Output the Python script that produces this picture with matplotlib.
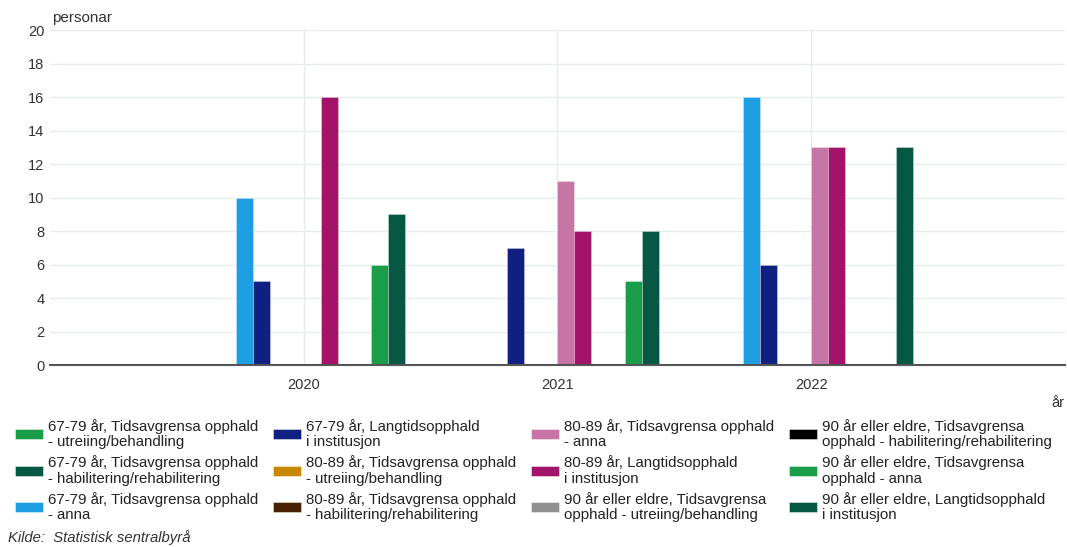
import numpy as np
import matplotlib
matplotlib.use("Agg")
import matplotlib.pyplot as plt
from matplotlib.patches import Rectangle

plt.rcParams["font.family"] = ["Liberation Sans", "DejaVu Sans"]

# Data
years = ["2020", "2021", "2022"]
series = [
    "67-79 år, Tidsavgrensa opphald\n- utreiing/behandling",
    "67-79 år, Tidsavgrensa opphald\n- habilitering/rehabilitering",
    "67-79 år, Tidsavgrensa opphald\n- anna",
    "67-79 år, Langtidsopphald\ni institusjon",
    "80-89 år, Tidsavgrensa opphald\n- utreiing/behandling",
    "80-89 år, Tidsavgrensa opphald\n- habilitering/rehabilitering",
    "80-89 år, Tidsavgrensa opphald\n- anna",
    "80-89 år, Langtidsopphald\ni institusjon",
    "90 år eller eldre, Tidsavgrensa\nopphald - utreiing/behandling",
    "90 år eller eldre, Tidsavgrensa\nopphald - habilitering/rehabilitering",
    "90 år eller eldre, Tidsavgrensa\nopphald - anna",
    "90 år eller eldre, Langtidsopphald\ni institusjon",
]
values = [
    [0, 0, 0],
    [0, 0, 0],
    [10, 0, 16],
    [5, 7, 6],
    [0, 0, 0],
    [0, 0, 0],
    [0, 11, 13],
    [16, 8, 13],
    [0, 0, 0],
    [0, 0, 0],
    [6, 5, 0],
    [9, 8, 13],
]
colors = [
    "#1a9d49", "#075745", "#1e9fe3", "#0f2080",
    "#c78800", "#472200", "#c775a7", "#a3136a",
    "#909090", "#000000", "#1a9d49", "#075745",
]

fig = plt.figure(figsize=(10.67, 5.47), dpi=100)
ax = fig.add_axes([0.0469, 0.3327, 0.951, 0.6124])

x = np.arange(len(years))
n = len(series)
w = 0.8 / n
for i in range(n):
    ax.bar(x + (i - n / 2) * w, values[i], width=w, align="edge",
           color=colors[i], edgecolor=(1, 1, 1, 0.35), linewidth=0.6, zorder=3)

ax.set_xlim(-1, 3)
ax.set_ylim(0, 20)
ax.set_yticks(range(0, 21, 2))
ax.set_xticks(x)
ax.set_xticklabels(years)
ax.tick_params(axis="both", length=0, labelsize=10.5, labelcolor="#333333")
ax.tick_params(axis="x", pad=9)
ax.tick_params(axis="y", pad=4)
ax.grid(True, color="#e6ecec", linewidth=1, zorder=0)
for s in ["top", "right", "left"]:
    ax.spines[s].set_visible(False)
ax.spines["bottom"].set_color("#555555")
ax.spines["bottom"].set_linewidth(1.5)
ax.spines["bottom"].set_zorder(4)

W, H = 1067, 547
fig.text(52 / W, 1 - 18 / H, "personar", fontsize=11, color="#333333", va="center", ha="left")
fig.text(1064 / W, 1 - 403 / H, "år", fontsize=10.5, color="#333333", va="center", ha="right")

# legend, 4 columns x 3 rows
for i, (lab, c) in enumerate(zip(series, colors)):
    col, row = i // 3, i % 3
    px = 15 + col * 258
    py = 434 + row * 36.5
    fig.add_artist(Rectangle((px / W, 1 - (py + 5) / H), 28 / W, 10 / H,
                             transform=fig.transFigure, facecolor=c,
                             edgecolor=(1, 1, 1, 0.5), linewidth=0.6))
    fig.text((px + 33) / W, 1 - py / H, lab, fontsize=10.8, color="#222222",
             va="center", ha="left", linespacing=1.12)

fig.text(8 / W, 1 - 538 / H, "Kilde:  Statistisk sentralbyrå", fontsize=10.7,
         style="italic", color="#333333", va="center", ha="left")

fig.savefig("out.png", dpi=100)
